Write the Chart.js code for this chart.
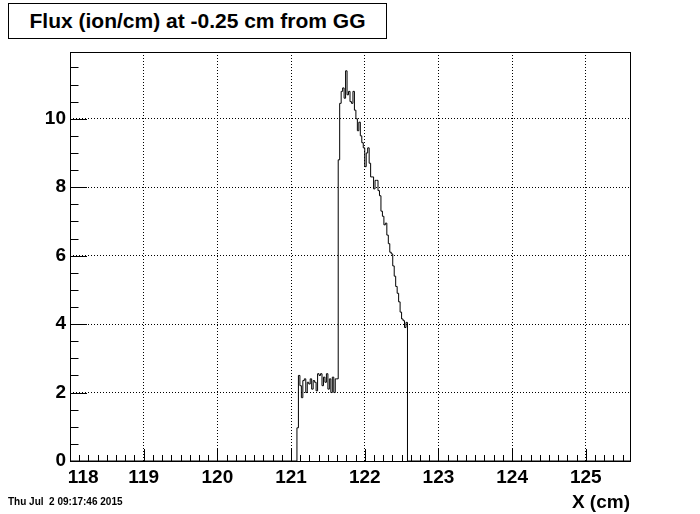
<!DOCTYPE html>
<html>
<head>
<meta charset="utf-8">
<script src="https://cdn.jsdelivr.net/npm/chart.js@4"></script>
<style>
  html, body { margin:0; padding:0; background:#fff; }
  #wrap { position:relative; width:700px; height:514px; background:#fff; overflow:hidden; }
  #c { position:absolute; left:0; top:0; }
  .title { position:absolute; left:8px; top:3px; width:377px; height:34px; border:1px solid #000;
           font:bold 21px "Liberation Sans", Arial, sans-serif; text-align:center; line-height:34px; color:#000; background:#fff; }
  .date { position:absolute; left:8px; top:496px; font:bold 10px "Liberation Sans Narrow", "Liberation Sans", sans-serif; white-space:pre; color:#000; }
  .xtitle { position:absolute; right:70px; top:491px; font:bold 19px "Liberation Sans Narrow", "Liberation Sans", sans-serif; color:#000; white-space:pre; }
</style>
</head>
<body>
<div id="wrap">
  <canvas id="c" width="700" height="514"></canvas>
  <div class="title">Flux (ion/cm) at -0.25 cm from GG</div>
  <div class="date">Thu Jul  2 09:17:46 2015</div>
  <div class="xtitle">X (cm)</div>
</div>
<script>
// ---- data ----
const xRange = [118, 125.6];
const yRange = [0, 11.95];
const xTickValues = [118, 119, 120, 121, 122, 123, 124, 125];
const xTickLabels = ['118', '119', '120', '121', '122', '123', '124', '125'];
const yTickValues = [0, 2, 4, 6, 8, 10];
const yTickLabels = ['0', '2', '4', '6', '8', '10'];
const binStart = 121.08;
const binWidth = 0.02;
const fluxValues = [
  0.97, 2.5, 2.2, 1.85, 2.35, 2.4, 2.0, 2.3, 2.25, 2.4,
  2.1, 2.35, 2.3, 2.05, 2.55, 2.5, 2.55, 2.2, 2.45, 2.3,
  2.55, 2.1, 2.4, 2.0, 2.45, 2.0, 2.4, 2.4, 8.8, 10.45,
  10.8, 10.9, 10.6, 11.4, 10.7, 10.8, 10.5, 10.45, 10.8, 10.25,
  10.0, 9.65, 9.9, 9.5, 9.3, 9.15, 8.6, 9.0, 9.15, 8.7,
  8.3, 8.3, 7.95, 8.2, 8.2, 7.9, 7.75, 7.3, 7.15, 6.9,
  6.95, 6.6, 6.35, 6.1, 6.05, 5.7, 5.4, 5.1, 4.9, 4.65,
  4.35, 4.15, 4.1, 3.9, 4.05
];

// histogram outline points at bin edges
const histPoints = [{ x: xRange[0], y: 0 }];
fluxValues.forEach((v, i) => histPoints.push({ x: binStart + i * binWidth, y: v }));
histPoints.push({ x: binStart + fluxValues.length * binWidth, y: 0 });
histPoints.push({ x: xRange[1], y: 0 });

const labelFont = { family: '"Liberation Sans Narrow", "Liberation Sans", Arial, sans-serif', size: 19, weight: 'bold' };

const frameTicks = {
  id: 'frameTicks',
  afterDatasetsDraw(chart) {
    const { ctx, chartArea: a, scales: { x, y } } = chart;
    ctx.save();
    ctx.strokeStyle = '#000';
    ctx.lineWidth = 1;
    ctx.setLineDash([]);
    ctx.beginPath();
    // x ticks: major every 1, minor every 1/8
    for (let k = 0; ; k++) {
      const v = xRange[0] + k * 0.125;
      if (v > xRange[1] + 1e-9) break;
      const px = Math.round(x.getPixelForValue(v)) + 0.5;
      const len = (k % 8 === 0) ? 12 : 6;
      ctx.moveTo(px, a.bottom);
      ctx.lineTo(px, a.bottom - len);
    }
    // y ticks: major every 2, minor every 0.5
    for (let k = 0; ; k++) {
      const v = yRange[0] + k * 0.5;
      if (v > yRange[1] + 1e-9) break;
      const py = Math.round(y.getPixelForValue(v)) + 0.5;
      const len = (k % 4 === 0) ? 17 : 8.5;
      ctx.moveTo(a.left, py);
      ctx.lineTo(a.left + len, py);
    }
    ctx.stroke();
    ctx.strokeRect(Math.round(a.left) + 0.5, Math.round(a.top) + 0.5,
                   Math.round(a.right - a.left), Math.round(a.bottom - a.top));
    ctx.restore();
  }
};

new Chart(document.getElementById('c'), {
  type: 'line',
  data: {
    datasets: [{
      data: histPoints,
      stepped: true,
      borderColor: '#000',
      borderWidth: 1,
      pointRadius: 0,
      fill: false,
      tension: 0
    }]
  },
  options: {
    responsive: false,
    animation: false,
    devicePixelRatio: 1,
    layout: { padding: { top: 52, right: 70, left: 0, bottom: 0 } },
    plugins: { legend: { display: false }, tooltip: { enabled: false }, title: { display: false } },
    scales: {
      x: {
        type: 'linear',
        min: xRange[0],
        max: xRange[1],
        afterFit(s) { s.height = 53; },
        afterBuildTicks(s) { s.ticks = xTickValues.map(v => ({ value: v })); },
        grid: { color: '#000', lineWidth: 1, drawTicks: false },
        border: { display: false, dash: [1, 2] },
        ticks: {
          autoSkip: false, maxRotation: 0, padding: 5, color: '#000', font: labelFont,
          callback(v) {
            const i = xTickValues.indexOf(v);
            const t = i >= 0 ? xTickLabels[i] : '';
            return i === 0 ? '     ' + t : t;
          }
        }
      },
      y: {
        type: 'linear',
        min: yRange[0],
        max: yRange[1],
        afterFit(s) { s.width = 70; },
        afterBuildTicks(s) { s.ticks = yTickValues.map(v => ({ value: v })); },
        grid: { color: '#000', lineWidth: 1, drawTicks: false },
        border: { display: false, dash: [1, 2] },
        ticks: {
          padding: 4, color: '#000', font: labelFont,
          callback(v) { const i = yTickValues.indexOf(v); return i >= 0 ? yTickLabels[i] : ''; }
        }
      }
    }
  },
  plugins: [frameTicks]
});
</script>
</body>
</html>
